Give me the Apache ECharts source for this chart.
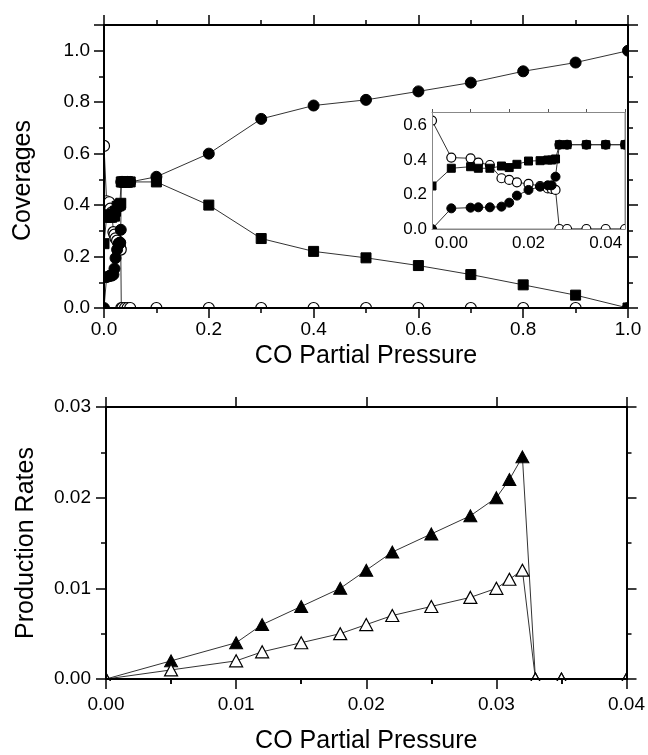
<!DOCTYPE html>
<html><head><meta charset="utf-8">
<script src="https://cdn.jsdelivr.net/npm/echarts@6/dist/echarts.min.js"></script>
<style>html,body{margin:0;padding:0;background:#fff}#c{width:648px;height:755px}</style>
</head><body><div id="c"></div>
<script>
// ---- data: coverages vs CO partial pressure ----
const covX = [0, 0.005, 0.01, 0.012, 0.015, 0.018, 0.02, 0.022, 0.025, 0.028, 0.03, 0.031, 0.032, 0.033, 0.035, 0.04, 0.045, 0.05, 0.1, 0.2, 0.3, 0.4, 0.5, 0.6, 0.7, 0.8, 0.9, 1.0];
const covFilledCircle = [0, 0.12, 0.124, 0.126, 0.126, 0.13, 0.153, 0.194, 0.227, 0.246, 0.254, 0.254, 0.304, 0.49, 0.49, 0.49, 0.49, 0.49, 0.51, 0.60, 0.735, 0.787, 0.809, 0.842, 0.876, 0.92, 0.954, 1.0];
const covSquare = [0.25, 0.353, 0.362, 0.353, 0.353, 0.366, 0.357, 0.376, 0.395, 0.397, 0.401, 0.401, 0.407, 0.49, 0.49, 0.49, 0.49, 0.49, 0.49, 0.40, 0.27, 0.22, 0.195, 0.165, 0.13, 0.09, 0.05, 0.0];
const covOpenCircle = [0.63, 0.415, 0.411, 0.386, 0.372, 0.295, 0.285, 0.271, 0.262, 0.25, 0.236, 0.233, 0.227, 0, 0, 0, 0, 0, 0, 0, 0, 0, 0, 0, 0, 0, 0, 0];

// ---- data: production rates vs CO partial pressure ----
const rateX = [0, 0.005, 0.01, 0.012, 0.015, 0.018, 0.02, 0.022, 0.025, 0.028, 0.03, 0.031, 0.032, 0.033, 0.035, 0.04];
const rateFilled = [0, 0.002, 0.004, 0.006, 0.008, 0.010, 0.012, 0.014, 0.016, 0.018, 0.020, 0.022, 0.0245, 0, 0, 0];
const rateOpen = [0, 0.001, 0.002, 0.003, 0.004, 0.005, 0.006, 0.007, 0.008, 0.009, 0.010, 0.011, 0.012, 0, 0, 0];

// ---- tick labels ----
const topXTicks = ['0.0', '0.2', '0.4', '0.6', '0.8', '1.0'];
const topYTicks = ['0.0', '0.2', '0.4', '0.6', '0.8', '1.0'];
const botXTicks = ['0.00', '0.01', '0.02', '0.03', '0.04'];
const botYTicks = ['0.00', '0.01', '0.02', '0.03'];
const insetXTickLabels = ['0.00', '0.02', '0.04'];
const insetXTickPos = [0.005, 0.025, 0.045]; // where the inset prints its labels
const insetYTicks = ['0.0', '0.2', '0.4', '0.6'];
const insetMaxX = 0.05;

const FONT = 'Liberation Sans, Arial, sans-serif';
const pairs = (xs, ys) => xs.map((x, i) => [x, ys[i]]);
const insetPairs = (xs, ys) => pairs(xs, ys).filter(p => p[0] <= insetMaxX);

// layout
const gTop = { left: 104, top: 25, width: 524, height: 283 };
const gBot = { left: 106, top: 407, width: 522, height: 274 };
const gIn = { left: 432, top: 112, width: 193, height: 117 };

function axisBase(o) {
  return Object.assign({
    type: 'value', z: 10,
    axisLine: { show: true, onZero: false, lineStyle: { color: '#000', width: 2 } },
    axisTick: { show: true, inside: false, length: 10, lineStyle: { color: '#000', width: 1.5 } },
    minorTick: { show: true, splitNumber: 2, length: 5, lineStyle: { color: '#000', width: 1.5 } },
    splitLine: { show: false },
    axisLabel: { show: false, color: '#000', fontFamily: FONT, fontSize: 19 },
    nameTextStyle: { color: '#000', fontFamily: FONT, fontSize: 25 }
  }, o);
}

// white strips just outside each plotting area so that markers are clipped at the frame
function frameMask(g, w) {
  const s = { fill: '#fff' };
  return [
    { type: 'rect', silent: true, z: 5, shape: { x: g.left - w, y: g.top - w, width: g.width + 2 * w, height: w }, style: s },
    { type: 'rect', silent: true, z: 5, shape: { x: g.left - w, y: g.top + g.height, width: g.width + 2 * w, height: w }, style: s },
    { type: 'rect', silent: true, z: 5, shape: { x: g.left - w, y: g.top, width: w, height: g.height }, style: s },
    { type: 'rect', silent: true, z: 5, shape: { x: g.left + g.width, y: g.top, width: w, height: g.height }, style: s }
  ];
}

const lineStyle = { color: '#333', width: 1 };
const filled = { color: '#000', borderColor: '#000', borderWidth: 1 };
const hollow = { color: '#fff', borderColor: '#000', borderWidth: 1.2 };
function ser(name, data, xi, yi, symbol, size, item) {
  return { name, type: 'line', data, xAxisIndex: xi, yAxisIndex: yi, symbol, symbolSize: size,
    showAllSymbol: true, clip: false, lineStyle, itemStyle: item, emphasis: { disabled: true }, z: 3 };
}

const chart = echarts.init(document.getElementById('c'), null, { renderer: 'canvas' });
chart.setOption({
  animation: false,
  backgroundColor: '#fff',
  grid: [
    gTop, gBot,
    Object.assign({ show: true, backgroundColor: '#fff', borderColor: '#888', borderWidth: 1, z: 1 }, gIn)
  ],
  graphic: { elements: [].concat(frameMask(gTop, 8), frameMask(gBot, 8), frameMask(gIn, 7)) },
  xAxis: [
    axisBase({ gridIndex: 0, position: 'bottom', min: 0, max: 1, interval: 0.2,
      axisLabel: { show: true, color: '#000', fontFamily: FONT, fontSize: 19, margin: 12, formatter: v => topXTicks[Math.round(v / 0.2)] },
      name: 'CO Partial Pressure', nameLocation: 'middle', nameGap: 36 }),
    axisBase({ gridIndex: 0, position: 'top', min: 0, max: 1, interval: 0.2 }),
    axisBase({ gridIndex: 1, position: 'bottom', min: 0, max: 0.04, interval: 0.01,
      axisLabel: { show: true, color: '#000', fontFamily: FONT, fontSize: 19, margin: 16, formatter: v => botXTicks[Math.round(v / 0.01)] },
      name: 'CO Partial Pressure', nameLocation: 'middle', nameGap: 50 }),
    axisBase({ gridIndex: 1, position: 'top', min: 0, max: 0.04, interval: 0.01, minorTick: { show: false } }),
    axisBase({ gridIndex: 2, position: 'bottom', min: 0, max: insetMaxX, interval: 0.01,
      axisLine: { show: true, onZero: false, lineStyle: { color: '#888', width: 1 } },
      axisTick: { show: false }, minorTick: { show: false },
      axisLabel: { show: true, color: '#000', fontFamily: FONT, fontSize: 17, margin: 6,
        customValues: insetXTickPos, formatter: v => insetXTickLabels[insetXTickPos.findIndex(p => Math.abs(p - v) < 1e-6)] } }),
    axisBase({ gridIndex: 2, position: 'top', min: 0, max: insetMaxX, interval: 0.01,
      axisLine: { show: true, onZero: false, lineStyle: { color: '#888', width: 1 } },
      axisTick: { show: true, length: 3, lineStyle: { color: '#555', width: 1 } }, minorTick: { show: false } }),
    // inward minor ticks on the top edge of the lower panel
    axisBase({ gridIndex: 1, position: 'top', min: 0, max: 0.04, interval: 0.01,
      axisLine: { show: false }, axisTick: { show: false, inside: true },
      minorTick: { show: true, splitNumber: 2, length: 5, lineStyle: { color: '#000', width: 1.5 } } })
  ],
  yAxis: [
    axisBase({ gridIndex: 0, position: 'left', min: 0, max: 1.1, interval: 0.2,
      axisLabel: { show: true, showMaxLabel: false, color: '#000', fontFamily: FONT, fontSize: 19, margin: 14, formatter: v => topYTicks[Math.round(v / 0.2)] },
      name: 'Coverages', nameLocation: 'middle', nameGap: 68, nameRotate: 90,
      nameTextStyle: { color: '#000', fontFamily: FONT, fontSize: 25, padding: [0, 28, 0, 0] } }),
    axisBase({ gridIndex: 0, position: 'right', min: 0, max: 1.1, interval: 0.2 }),
    axisBase({ gridIndex: 1, position: 'left', min: 0, max: 0.03, interval: 0.01,
      axisLabel: { show: true, color: '#000', fontFamily: FONT, fontSize: 19, margin: 15, formatter: v => botYTicks[Math.round(v / 0.01)] },
      name: 'Production Rates', nameLocation: 'middle', nameGap: 67, nameRotate: 90 }),
    axisBase({ gridIndex: 1, position: 'right', min: 0, max: 0.03, interval: 0.01 }),
    axisBase({ gridIndex: 2, position: 'left', min: 0, max: 0.68, interval: 0.2,
      axisLine: { show: true, onZero: false, lineStyle: { color: '#888', width: 1 } },
      axisTick: { show: false }, minorTick: { show: false },
      axisLabel: { show: true, color: '#000', fontFamily: FONT, fontSize: 17, margin: 5, formatter: v => insetYTicks[Math.round(v / 0.2)] } }),
    axisBase({ gridIndex: 2, position: 'right', min: 0, max: 0.68, interval: 0.2,
      axisLine: { show: true, onZero: false, lineStyle: { color: '#888', width: 1 } },
      axisTick: { show: false }, minorTick: { show: false } })
  ],
  series: [
    ser('θ open circles', pairs(covX, covOpenCircle), 0, 0, 'circle', 11, hollow),
    ser('θ squares', pairs(covX, covSquare), 0, 0, 'rect', 10, filled),
    ser('θ filled circles', pairs(covX, covFilledCircle), 0, 0, 'circle', 11, filled),
    ser('rate filled', pairs(rateX, rateFilled), 2, 2, 'triangle', [13, 12], filled),
    ser('rate open', pairs(rateX, rateOpen), 2, 2, 'triangle', [13, 12], hollow),
    ser('inset open circles', insetPairs(covX, covOpenCircle), 4, 4, 'circle', 9, hollow),
    ser('inset squares', insetPairs(covX, covSquare), 4, 4, 'rect', 8, filled),
    ser('inset filled circles', insetPairs(covX, covFilledCircle), 4, 4, 'circle', 9, filled)
  ]
});
</script></body></html>
